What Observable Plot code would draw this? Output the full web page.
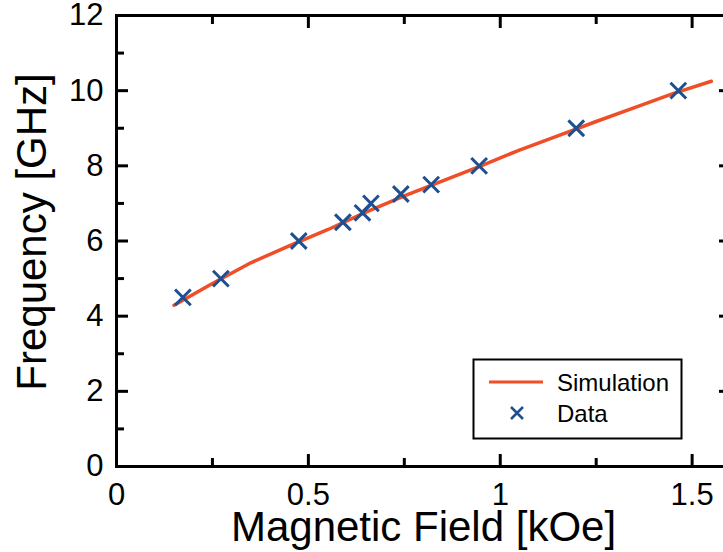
<!DOCTYPE html>
<html>
<head>
<meta charset="utf-8">
<script src="https://cdn.jsdelivr.net/npm/d3@7"></script>
<script src="https://cdn.jsdelivr.net/npm/@observablehq/plot@0.6"></script>
<style>
  html, body { margin: 0; padding: 0; background: white; overflow: hidden; }
  #wrap { position: relative; width: 723px; height: 552px; overflow: hidden; }
  #wrap svg { max-width: none !important; }
  #legend { position: absolute; left: 0; top: 0; pointer-events: none; }
</style>
</head>
<body>
<div id="wrap"></div>
<script>
// ---- data ----
const simField = [0.15, 0.25, 0.35, 0.45, 0.55, 0.65, 0.75, 0.85, 0.95, 1.05, 1.15, 1.25, 1.35, 1.45, 1.55];
const simFreq  = [4.29, 4.87, 5.42, 5.87, 6.30, 6.77, 7.20, 7.60, 8.00, 8.42, 8.80, 9.18, 9.55, 9.92, 10.25];
const dataField = [0.173, 0.272, 0.475, 0.590, 0.641, 0.663, 0.741, 0.820, 0.945, 1.198, 1.464];
const dataFreq  = [4.5, 5.0, 6.0, 6.5, 6.75, 7.0, 7.25, 7.5, 8.0, 9.0, 10.0];
const xMajor = [0, 0.5, 1, 1.5];
const xMajorLabels = ["0", "0.5", "1", "1.5"];
const xMinor = [0.25, 0.75, 1.25];
const yMajor = [0, 2, 4, 6, 8, 10, 12];
const yMajorLabels = ["0", "2", "4", "6", "8", "10", "12"];
const yMinor = [1, 3, 5, 7, 9, 11];
const seriesNames = ["Simulation", "Data"];
const xTitle = "Magnetic Field [kOe]";
const yTitle = "Frequency [GHz]";

const sim = simField.map((f, i) => ({field: f, freq: simFreq[i]}));
const dat = dataField.map((f, i) => ({field: f, freq: dataFreq[i]}));
const xLab = xMajor.map((v, i) => ({v, t: xMajorLabels[i]}));
const yLab = yMajor.map((v, i) => ({v, t: yMajorLabels[i]}));

const lineColor = "#f04e27";
const crossColor = "#1d4f91";
const font = "'Liberation Sans', Arial, Helvetica, sans-serif";

const tickAxes = [];
for (const anchor of ["bottom", "top"]) {
  tickAxes.push(Plot.axisX({anchor, ticks: xMajor, tickSize: -12, tickFormat: () => "", label: null, strokeWidth: 3}));
  tickAxes.push(Plot.axisX({anchor, ticks: xMinor, tickSize: -8, tickFormat: () => "", label: null, strokeWidth: 3}));
}
for (const anchor of ["left", "right"]) {
  tickAxes.push(Plot.axisY({anchor, ticks: yMajor, tickSize: -12, tickFormat: () => "", label: null, strokeWidth: 3}));
  tickAxes.push(Plot.axisY({anchor, ticks: yMinor, tickSize: -8, tickFormat: () => "", label: null, strokeWidth: 3}));
}

const chart = Plot.plot({
  width: 745,
  height: 552,
  marginLeft: 116,
  marginRight: 15,
  marginTop: 15,
  marginBottom: 86,
  x: {domain: [0, 1.6], axis: null},
  y: {domain: [0, 12], axis: null},
  style: {fontFamily: font, color: "black", background: "white", overflow: "visible", maxWidth: "none"},
  marks: [
    Plot.line(sim, {x: "field", y: "freq", stroke: lineColor, strokeWidth: 3.5}),
    Plot.dot(dat, {x: "field", y: "freq", symbol: "times", r: 7.2, stroke: crossColor, strokeWidth: 3}),
    ...tickAxes,
    Plot.text(xLab, {x: "v", text: "t", frameAnchor: "bottom", lineAnchor: "top", dy: 16, fontSize: 31, fill: "black"}),
    Plot.text(yLab, {y: "v", text: "t", frameAnchor: "left", textAnchor: "end", dx: -13, fontSize: 31, fill: "black"}),
    Plot.frame({stroke: "black", strokeWidth: 3}),
    Plot.text([xTitle], {frameAnchor: "bottom", lineAnchor: "bottom", dy: 74, fontSize: 42, fill: "black"}),
    Plot.text([yTitle], {frameAnchor: "left", textAnchor: "middle", lineAnchor: "bottom", rotate: -90, dx: -71, dy: -9, fontSize: 42, fill: "black"})
  ]
});

const wrap = document.getElementById("wrap");
wrap.appendChild(chart);

// ---- legend overlay ----
const lg = d3.select(wrap).append("svg").attr("id", "legend").attr("width", 723).attr("height", 552);
lg.append("rect").attr("x", 473.5).attr("y", 359.5).attr("width", 208).attr("height", 79)
  .attr("fill", "white").attr("stroke", "black").attr("stroke-width", 2);
lg.append("line").attr("x1", 489).attr("x2", 543).attr("y1", 382).attr("y2", 382)
  .attr("stroke", lineColor).attr("stroke-width", 3);
const cx = 517, cy = 413, h = 6;
lg.append("path").attr("d", `M${cx-h},${cy-h}L${cx+h},${cy+h}M${cx-h},${cy+h}L${cx+h},${cy-h}`)
  .attr("stroke", crossColor).attr("stroke-width", 2.5).attr("fill", "none");
lg.selectAll("text.lab").data(seriesNames).join("text").attr("class", "lab")
  .attr("x", 557).attr("y", (d, i) => i === 0 ? 391 : 422)
  .attr("font-family", font).attr("font-size", 24).attr("fill", "black").text(d => d);
</script>
</body>
</html>
